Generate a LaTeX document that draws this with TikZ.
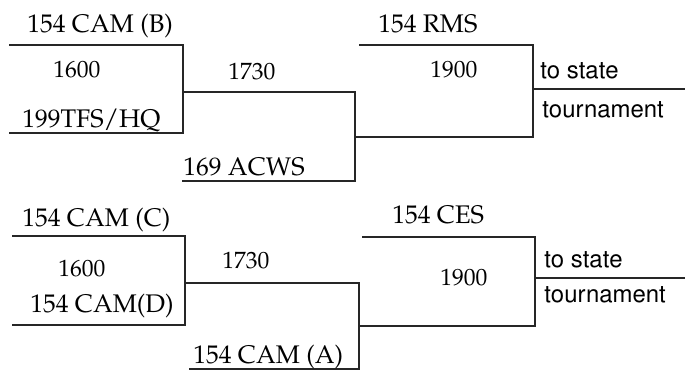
\documentclass[tikz,border=0pt]{standalone}
\usepackage[T1]{fontenc}
\usepackage{mathpazo}
\renewcommand{\sfdefault}{phv}
\usepackage{tikz}

\begin{document}
\begin{tikzpicture}[line cap=rect,
  bracket/.style={draw=black!85,line width=1.1pt},
  team/.style={anchor=base west,inner sep=0pt,font=\fontsize{14.5}{17}\selectfont},
  score/.style={anchor=base west,inner sep=0pt,font=\fontsize{13.4}{16}\selectfont},
  note/.style={anchor=base west,inner sep=0pt,font=\sffamily\fontsize{13.6}{15}\selectfont}]
\useasboundingbox (0,0) rectangle (13.7,7.4);
% upper bracket
\coordinate (camB) at (0.2,6.5);
\coordinate (tfs) at (0.2,4.74);
\coordinate (g1) at (3.66,5.56);
\coordinate (acws) at (3.66,3.78);
\coordinate (g2) at (7.1,4.66);
\coordinate (rms) at (7.2,6.5);
\coordinate (g3) at (10.66,5.62);
\coordinate (state1) at (13.7,5.62);
\draw[bracket] (camB) -| (g1) |- (tfs);
\draw[bracket] (g1) -| (g2) |- (acws);
\draw[bracket] (rms) -| (g3) |- (g2);
\draw[bracket] (g3) -- (state1);
\node[team] (tB) at (0.54,6.74) {154 CAM (B)};
\node[score] (s1) at (1.06,5.84) {1600};
\node[team] (tTFS) at (0.44,4.84) {199TFS/HQ};
\node[score] (s2) at (4.56,5.80) {1730};
\node[team] (tACWS) at (3.66,3.88) {169 ACWS};
\node[team] (tRMS) at (7.56,6.74) {154 RMS};
\node[score] (s3) at (8.60,5.84) {1900};
\node[note] (n1) at (10.80,5.82) {to state};
\node[note] (n2) at (10.84,5.04) {tournament};
% lower bracket
\coordinate (camC) at (0.26,2.68);
\coordinate (camD) at (0.26,0.9);
\coordinate (g4) at (3.7,1.74);
\coordinate (camA) at (3.8,0.02);
\coordinate (g5) at (7.18,0.88);
\coordinate (ces) at (7.26,2.66);
\coordinate (g6) at (10.7,1.84);
\coordinate (state2) at (13.7,1.84);
\draw[bracket] (camC) -| (g4) |- (camD);
\draw[bracket] (g4) -| (g5) |- (camA);
\draw[bracket] (ces) -| (g6) |- (g5);
\draw[bracket] (g6) -- (state2);
\node[team] (tC) at (0.44,2.86) {154 CAM (C)};
\node[score] (s4) at (1.16,1.86) {1600};
\node[team] (tD) at (0.60,1.14) {154 CAM(D)};
\node[score] (s5) at (4.44,2.02) {1730};
\node[team] (tA) at (3.86,0.12) {154 CAM (A)};
\node[team] (tCES) at (7.84,2.92) {154 CES};
\node[score] (s6) at (8.80,1.68) {1900};
\node[note] (n3) at (10.88,2.04) {to state};
\node[note] (n4) at (10.88,1.34) {tournament};
\end{tikzpicture}
\end{document}
